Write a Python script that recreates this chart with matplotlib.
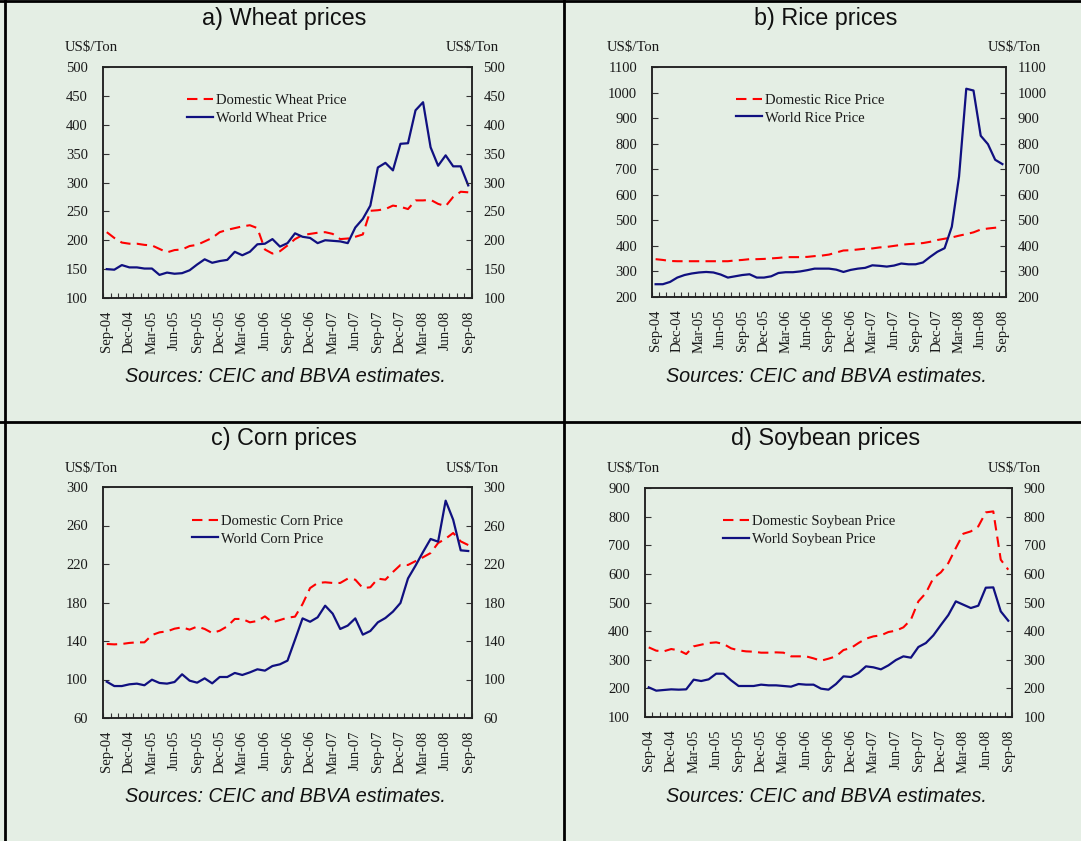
import matplotlib
matplotlib.use('Agg')
import matplotlib.pyplot as plt
from matplotlib.lines import Line2D
import numpy as np
import pandas as pd

# ---------------- data ----------------
months = pd.date_range('2004-09-01', periods=49, freq='MS')
tick_labels = ['Sep-04', 'Dec-04', 'Mar-05', 'Jun-05', 'Sep-05', 'Dec-05', 'Mar-06',
               'Jun-06', 'Sep-06', 'Dec-06', 'Mar-07', 'Jun-07', 'Sep-07', 'Dec-07',
               'Mar-08', 'Jun-08', 'Sep-08']

wheat_domestic = [214, 204, 196, 194, 194, 192, 191, 185, 179, 183, 184, 190, 192, 198, 204,
                  214, 218, 221, 224, 226, 221, 184, 177, 181, 191, 202, 209, 211, 213, 214,
                  211, 202, 203, 206, 210, 251, 252, 254, 260, 258, 254, 269, 269, 270, 263,
                  259, 275, 284, 283]
wheat_world = [150, 149, 157, 153, 153, 151, 151, 140, 144, 142, 143, 148, 158, 167, 161,
               164, 166, 180, 174, 180, 193, 194, 202, 189, 195, 212, 206, 204, 195, 200,
               199, 198, 195, 222, 237, 260, 326, 334, 321, 367, 368, 425, 439, 361, 329,
               347, 328, 328, 295]

rice_domestic = [348, 345, 341, 340, 340, 340, 340, 340, 340, 340, 340, 343, 345, 348, 348,
                 349, 351, 353, 356, 356, 356, 357, 360, 362, 366, 374, 382, 383, 386, 389,
                 390, 394, 396, 400, 404, 407, 409, 411, 416, 423, 428, 433, 440, 446, 453,
                 464, 468, 471, 474]
rice_world = [250, 250, 259, 276, 286, 292, 296, 298, 296, 288, 276, 281, 286, 289, 276,
              276, 281, 294, 297, 297, 300, 305, 311, 311, 311, 307, 298, 306, 311, 314,
              324, 322, 319, 323, 331, 328, 328, 335, 357, 377, 391, 475, 671, 1015, 1008,
              831, 798, 737, 720]

corn_domestic = [136.9, 136.5, 136.9, 138, 138.6, 138.6, 146.2, 149, 150, 152.8, 154.2,
                 151.8, 155, 152.5, 148.3, 150.7, 155.2, 162.9, 162.9, 159.4, 160.8, 165.6,
                 159.4, 161.8, 164.2, 165.3, 178.4, 195, 200.3, 201, 200.3, 200.3, 204.8,
                 203.7, 195, 195.8, 204.8, 203.7, 211.7, 219, 219, 223, 227, 231.4, 241.8,
                 246.3, 252.2, 243.5, 239.7]
corn_world = [97.7, 93.2, 93.2, 95, 95.7, 94, 99.8, 96.4, 95.7, 97.4, 105.4, 98.8, 96.7,
              101.2, 96, 102.6, 102.6, 106.8, 104.7, 107.4, 110.6, 109.2, 114, 115.8, 119.6,
              141.4, 163.5, 160, 164.6, 176.7, 168.4, 152.5, 156, 163.5, 146.6, 150.4, 159.4,
              163.9, 170.5, 179.5, 205, 218.3, 232.5, 246, 243.2, 285.8, 266, 234.2, 233.5]

soy_domestic = [343.3, 331.7, 329.3, 337.5, 332.8, 320, 346.8, 352.6, 358.4, 360.8, 355,
                339.8, 332.8, 329.3, 328.2, 324.7, 324.7, 325.8, 324.7, 311.9, 311.9, 311.9,
                304.9, 296.7, 303.7, 311.9, 334, 341, 358.4, 373.6, 381.7, 385.2, 396.9,
                401.5, 413.2, 440, 504, 533, 585.4, 605.2, 637.8, 690.2, 740.3, 748.4, 765.9,
                814.8, 818.3, 649.5, 614.6]
soy_world = [203.6, 192, 194.3, 196.6, 195.5, 196.6, 230.4, 225.7, 231.5, 251.3, 251.3, 228,
             208.3, 208.3, 208.3, 213, 210.6, 210.6, 208.3, 206, 215.2, 213, 213, 199, 195.5,
             215.2, 242, 239.7, 253.7, 277, 273.5, 266.5, 280.4, 299, 311.9, 307.2, 344.5,
             358.4, 385.2, 421.3, 456.2, 504, 492.3, 480.7, 488.8, 551.7, 552.8, 469, 436.4]

titles = ['a) Wheat prices', 'b) Rice prices', 'c) Corn prices', 'd) Soybean prices']
legend_names = [('Domestic Wheat Price', 'World Wheat Price'),
                ('Domestic Rice Price', 'World Rice Price'),
                ('Domestic Corn Price', 'World Corn Price'),
                ('Domestic Soybean Price', 'World Soybean Price')]
y_ranges = [(100, 500, 50), (200, 1100, 100), (60, 300, 40), (100, 900, 100)]
source_text = 'Sources: CEIC and BBVA estimates.'
unit_text = 'US$/Ton'

# ---------------- styling / layout ----------------
W, H = 1081, 841
BG = '#E4EEE4'
TXT = '#1a1a1a'
RED = '#FF0000'
NAVY = '#101080'

plt.rcParams['font.family'] = ['Liberation Serif', 'DejaVu Serif']

fig = plt.figure(figsize=(W / 100, H / 100), dpi=100, facecolor=BG)


def fx(x):
    return x / W


def fy(y):
    return 1 - y / H


layout = [
    dict(rect=(103, 67, 472, 298), leg=(187, 109.5), title=(284, 18), src=(285, 376),
         uL=(65, 48), uR=(499, 48)),
    dict(rect=(652, 67, 1006, 297), leg=(736, 109), title=(826, 18), src=(826, 376),
         uL=(607, 48), uR=(1041, 48)),
    dict(rect=(103, 487, 472, 718), leg=(192, 530), title=(284, 438), src=(285, 796),
         uL=(65, 468), uR=(499, 468)),
    dict(rect=(645, 488, 1012, 717), leg=(723, 530.5), title=(826, 438), src=(826, 796),
         uL=(607, 468), uR=(1041, 468)),
]

series = [(wheat_domestic, wheat_world), (rice_domestic, rice_world),
          (corn_domestic, corn_world), (soy_domestic, soy_world)]

x = np.arange(len(months))

for k in range(4):
    L = layout[k]
    l, t, r, b = L['rect']
    ax = fig.add_axes([fx(l), fy(b), (r - l) / W, (b - t) / H])
    ax.set_facecolor(BG)
    dom, wld = series[k]
    ymin, ymax, step = y_ranges[k]

    ln1, = ax.plot(x, dom, color=RED, lw=1.5, dashes=(5, 3), label=legend_names[k][0])
    ln2, = ax.plot(x, wld, color=NAVY, lw=1.6, label=legend_names[k][1])

    ax.set_xlim(-0.5, len(months) - 0.5)
    ax.set_ylim(ymin, ymax)
    yt = np.arange(ymin, ymax + step / 2, step)
    ax.set_yticks(yt)
    ax.set_yticklabels([f'{int(v)}' for v in yt])
    ax.set_xticks(np.arange(0, len(months), 3))
    ax.set_xticklabels(tick_labels, rotation=90)
    ax.set_xticks(np.arange(-0.5, len(months), 1), minor=True)
    ax.tick_params(axis='x', which='major', length=0, pad=9, labelsize=10.5, labelcolor=TXT)
    ax.tick_params(axis='x', which='minor', direction='in', length=3.5, width=0.8, color='#333333')
    ax.tick_params(axis='y', which='major', direction='in', length=4, width=0.8, pad=10.8,
                   labelsize=10.5, labelcolor=TXT, color='#333333')

    ax2 = ax.twinx()
    ax2.set_ylim(ymin, ymax)
    ax2.set_yticks(yt)
    ax2.set_yticklabels([f'{int(v)}' for v in yt])
    ax2.tick_params(axis='y', which='major', direction='in', length=4, width=0.8, pad=8.3,
                    labelsize=10.5, labelcolor=TXT, color='#333333')
    for a in (ax, ax2):
        for s in a.spines.values():
            s.set_linewidth(1.1)
            s.set_color('#222222')

    ax.legend(handles=[ln1, ln2], loc='center left',
              bbox_to_anchor=(fx(L['leg'][0]), fy(L['leg'][1])), bbox_transform=fig.transFigure,
              frameon=False, fontsize=10.5, handlelength=1.8, handletextpad=0.2,
              labelspacing=0.32, borderpad=0, borderaxespad=0, labelcolor=TXT)

    fig.text(fx(L['title'][0]), fy(L['title'][1]), titles[k], ha='center', va='center',
             fontsize=16.8, family=['Liberation Sans', 'DejaVu Sans'], color='#111111')
    fig.text(fx(L['src'][0]), fy(L['src'][1]), source_text, ha='center', va='center',
             fontsize=14.2, style='italic', family=['Liberation Sans', 'DejaVu Sans'],
             color='#111111')
    fig.text(fx(L['uL'][0]), fy(L['uL'][1]), unit_text, ha='left', va='center',
             fontsize=10.6, color=TXT)
    fig.text(fx(L['uR'][0]), fy(L['uR'][1]), unit_text, ha='right', va='center',
             fontsize=10.6, color=TXT)

# panel borders
border_kw = dict(color='black', lw=2.0, transform=fig.transFigure)
fig.add_artist(Line2D([0, 1], [fy(1), fy(1)], **border_kw))
fig.add_artist(Line2D([fx(5), fx(5)], [0, 1], **border_kw))
fig.add_artist(Line2D([fx(564), fx(564)], [0, 1], **border_kw))
fig.add_artist(Line2D([0, 1], [fy(422), fy(422)], **border_kw))

fig.savefig('out.png', dpi=100, facecolor=BG)
